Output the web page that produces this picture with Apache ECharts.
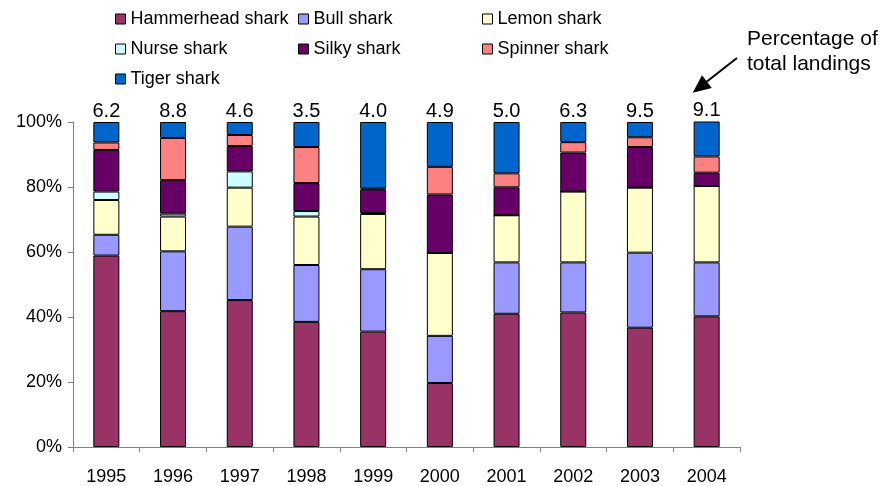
<!DOCTYPE html>
<html><head><meta charset="utf-8">
<script src="https://cdn.jsdelivr.net/npm/echarts@6/dist/echarts.min.js"></script>
<style>html,body{margin:0;padding:0;background:#fff}#c{width:891px;height:486px}</style>
</head><body><div id="c"></div>
<script>
const years = ['1995','1996','1997','1998','1999','2000','2001','2002','2003','2004'];
const totals = ['6.2','8.8','4.6','3.5','4.0','4.9','5.0','6.3','9.5','9.1'];
const hammerhead = [58.9,41.8,45.2,38.5,35.5,19.7,41.0,41.4,36.7,40.2];
const bull       = [6.4,18.4,22.6,17.5,19.2,14.5,15.8,15.4,23.1,16.6];
const lemon      = [10.7,10.7,12.0,14.9,17.0,25.5,14.5,21.8,20.0,23.5];
const nurse      = [2.6,0.9,5.0,1.7,0.3,0,0,0,0,0];
const silky      = [12.8,10.3,7.8,8.6,7.2,18.0,8.6,12.0,12.5,4.1];
const spinner    = [2.3,13.0,3.4,11.1,0.3,8.5,4.3,3.2,3.0,5.0];
const tiger      = [6.3,4.9,4.0,7.7,20.5,13.8,15.8,6.2,4.7,10.8];
const yTicks = [0,20,40,60,80,100];

const font = 'Liberation Sans, Arial, sans-serif';
const seriesDefs = [
  ['Hammerhead shark', hammerhead, '#993366'],
  ['Bull shark', bull, '#9999FF'],
  ['Lemon shark', lemon, '#FFFFCC'],
  ['Nurse shark', nurse, '#CCFFFF'],
  ['Silky shark', silky, '#660066'],
  ['Spinner shark', spinner, '#FF8080'],
  ['Tiger shark', tiger, '#0066CC']
];
const series = seriesDefs.map((d, i) => {
  const s = {
    name: d[0], type: 'bar', stack: 'all', data: d[1], barWidth: 26,
    itemStyle: {color: d[2], borderColor: '#000', borderWidth: 1},
    emphasis: {disabled: true}
  };
  if (i === seriesDefs.length - 1) {
    s.label = {show: true, position: 'top', distance: 1, color: '#000', fontFamily: font, fontSize: 20,
      formatter: p => totals[p.dataIndex]};
  }
  return s;
});
const legendBase = {
  orient: 'vertical', itemWidth: 10, itemHeight: 10, itemGap: 12, icon: 'rect', padding: 0,
  textStyle: {fontFamily: font, fontSize: 18, color: '#000', lineHeight: 18},
  itemStyle: {borderColor: '#000', borderWidth: 1}, selectedMode: false
};
const chart = echarts.init(document.getElementById('c'));
chart.setOption({
  animation: false,
  backgroundColor: '#fff',
  legend: [
    Object.assign({}, legendBase, {left: 115, top: 10, data: ['Hammerhead shark','Nurse shark','Tiger shark']}),
    Object.assign({}, legendBase, {left: 298, top: 10, data: ['Bull shark','Silky shark']}),
    Object.assign({}, legendBase, {left: 482, top: 10, data: ['Lemon shark','Spinner shark']})
  ],
  grid: {left: 73, right: 151, top: 122, bottom: 39},
  xAxis: {
    type: 'category', data: years,
    axisLine: {lineStyle: {color: '#808080', width: 1}},
    axisTick: {show: true, length: 5, lineStyle: {color: '#808080'}},
    axisLabel: {color: '#000', fontFamily: font, fontSize: 18, margin: 21}
  },
  yAxis: {
    type: 'value', min: 0, max: 100, interval: 20,
    axisLine: {show: true, lineStyle: {color: '#808080'}},
    axisTick: {show: true, length: 5, lineStyle: {color: '#808080'}},
    splitLine: {show: false},
    axisLabel: {color: '#000', fontFamily: font, fontSize: 18, margin: 11, formatter: v => yTicks.includes(v) ? v + '%' : ''}
  },
  series: series,
  graphic: [
    {type: 'text', left: 747, top: 27, style: {text: 'Percentage of\ntotal landings', font: '21px ' + font, fill: '#000', lineHeight: 25, align: 'left'}},
    {type: 'line', shape: {x1: 737, y1: 58, x2: 705, y2: 83}, style: {stroke: '#000', lineWidth: 2}},
    {type: 'polygon', shape: {points: [[692.7, 92.7], [711.8, 87.9], [702.0, 75.3]]}, style: {fill: '#000'}}
  ]
});
</script></body></html>
